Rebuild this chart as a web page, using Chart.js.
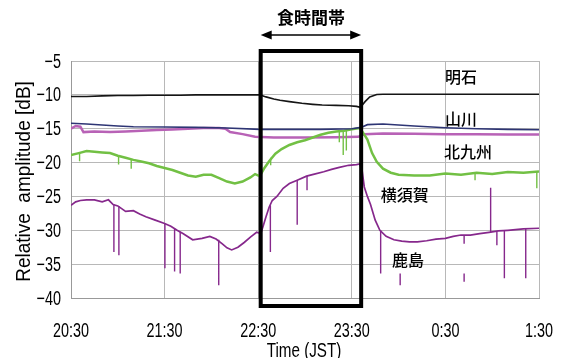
<!DOCTYPE html>
<html>
<head>
<meta charset="utf-8">
<script src="https://cdn.jsdelivr.net/npm/chart.js@4.4.1/dist/chart.umd.min.js"></script>
<style>
  html, body { margin: 0; padding: 0; background: #fff; }
</style>
</head>
<body>
<canvas id="chart" width="564" height="358"></canvas>
<script>
// ===== Data (minutes after 20:30 JST, relative amplitude in dB) =====
const xTickLabels = ['20:30', '21:30', '22:30', '23:30', '0:30', '1:30'];
const eclipseStart = 121.6;
const eclipseEnd = 186;

// 明石
const akashiT = [0, 10, 20, 30, 40, 50, 60, 70, 80, 90, 100, 110, 121, 125, 130, 134, 140, 148, 155, 161, 170, 178, 183, 185.5, 188.5, 191.5, 196, 200, 220, 240, 260, 280, 300];
const akashiV = [-10.25, -10.25, -10.15, -10.1, -10.1, -10.05, -10.05, -10.05, -10.0, -10.0, -10.0, -10.0, -10.0, -10.3, -10.6, -10.8, -11.0, -11.25, -11.4, -11.5, -11.55, -11.6, -11.7, -11.85, -11.0, -10.3, -9.95, -9.9, -9.9, -9.9, -9.9, -9.9, -9.9];

// 山川
const yamakawaT = [0, 10, 20, 30, 40, 60, 80, 100, 121, 140, 160, 180, 186, 190, 200, 210, 220, 240, 260, 280, 300];
const yamakawaV = [-14.2, -14.3, -14.45, -14.6, -14.7, -14.75, -14.8, -14.9, -15.1, -15.1, -15.1, -15.0, -14.8, -14.4, -14.3, -14.45, -14.6, -14.85, -15.0, -15.1, -15.15];

// 北九州
const kitakyushuT = [0, 3, 6, 8, 15, 25, 35, 45, 55, 65, 75, 85, 95, 99, 102, 110, 118, 130, 150, 170, 184, 188, 200, 220, 240, 260, 280, 300];
const kitakyushuV = [-15.0, -14.6, -14.7, -15.5, -15.4, -15.5, -15.4, -15.3, -15.2, -15.1, -15.0, -14.9, -14.9, -15.0, -15.5, -15.8, -16.2, -16.3, -16.3, -16.25, -16.2, -15.8, -15.7, -15.75, -15.8, -15.8, -15.85, -15.85];

// 横須賀
const yokosukaT = [0, 5, 10, 15, 20, 25, 30, 35, 40, 45, 50, 55, 60, 65, 70, 75, 80, 85, 90, 95, 100, 105, 110, 115, 118, 121, 124, 127, 131, 135, 140, 145, 150, 155, 160, 165, 170, 175, 180, 185, 187, 190, 193, 196, 200, 205, 210, 220, 230, 240, 250, 260, 270, 280, 290, 300];
const yokosukaV = [-18.9, -18.6, -18.3, -18.4, -18.5, -18.6, -19.0, -19.3, -19.6, -19.85, -20.1, -20.5, -20.8, -21.1, -21.5, -21.9, -22.1, -21.8, -21.8, -22.3, -22.8, -23.1, -22.8, -22.2, -21.7, -22.0, -20.8, -19.8, -18.7, -18.0, -17.4, -17.0, -16.7, -16.3, -15.9, -15.6, -15.4, -15.3, -15.1, -14.9, -15.5, -16.6, -18.6, -19.9, -20.9, -21.5, -21.8, -21.9, -21.9, -21.6, -21.8, -21.5, -21.7, -21.4, -21.5, -21.3];
const yokosukaSpikeT = [5.5, 30.5, 38.6, 128, 172, 174.5, 176.5, 259, 298.6];
const yokosukaSpikeFrom = [-18.6, -19.0, -19.5, -19.3, -15.4, -15.3, -15.25, -21.5, -21.3];
const yokosukaSpikeTo = [-19.8, -20.3, -20.9, -20.4, -17.0, -18.9, -18.2, -22.6, -23.8];

// 鹿島
const kashimaT = [0, 3, 6, 10, 15, 20, 24, 27, 30, 35, 40, 44, 48, 54, 60, 64, 68, 72, 78, 84, 89, 93, 97, 100, 103, 107, 111, 115, 119, 121.6, 123, 125, 127, 129, 132, 136, 140, 145, 151, 156, 162, 167, 172, 178, 183, 185, 186.5, 188, 190, 192, 195, 198, 202, 207, 212, 217, 222, 228, 234, 240, 245, 250, 256, 262, 268, 274, 280, 290, 300];
const kashimaV = [-26.3, -25.8, -25.6, -25.5, -25.5, -25.8, -25.5, -26.2, -26.4, -27.2, -27.1, -27.6, -28.0, -28.5, -29.0, -29.4, -30.0, -30.5, -31.4, -31.2, -30.9, -31.3, -32.0, -32.6, -32.9, -32.5, -31.8, -31.0, -30.3, -30.5, -29.5, -28.0, -26.6, -25.6, -25.0, -23.8, -23.1, -22.6, -22.0, -21.7, -21.35, -21.0, -20.7, -20.4, -20.3, -20.2, -21.0, -23.6, -25.0, -26.2, -28.5, -30.0, -30.9, -31.4, -31.6, -31.7, -31.7, -31.55, -31.3, -31.2, -30.9, -30.7, -30.7, -30.5, -30.3, -30.1, -30.0, -29.8, -29.7];
const kashimaSpikeT = [27.5, 30.7, 60.2, 66.4, 70, 94.7, 127.8, 145, 151.3, 198.5, 211, 252, 252, 269, 273, 277.8, 291.5];
const kashimaSpikeFrom = [-26.2, -26.4, -29.0, -29.7, -30.2, -31.4, -26.3, -22.6, -22.0, -30.0, -36.4, -30.7, -36.4, -30.3, -30.2, -30.0, -29.8];
const kashimaSpikeTo = [-33.2, -33.7, -35.6, -36.1, -36.4, -38.1, -33.2, -29.2, -24.1, -36.4, -38.1, -32.0, -37.6, -23.7, -32.2, -37.1, -37.1];

// ===== Helpers =====
const toPoints = (t, v) => t.map((x, i) => ({ x: x, y: v[i] }));
function spikePoints(t, from, to) {
    const pts = [];
    t.forEach((x, i) => {
        pts.push({ x: x, y: from[i] }, { x: x, y: to[i] }, { x: x, y: null });
    });
    return pts;
}

const colors = {
    akashi: '#151515',
    yamakawa: '#2e3574',
    kitakyushu: '#b862b6',
    yokosuka: '#72c044',
    kashima: '#86288c'
};

const stationLabels = [
    { text: '明石', x: 250, y: -7.36 },
    { text: '山川', x: 250, y: -13.57 },
    { text: '北九州', x: 254.5, y: -18.37 },
    { text: '横須賀', x: 214, y: -24.8 },
    { text: '鹿島', x: 216, y: -34.4 }
];

const sansFont = "'Liberation Sans', Arial, sans-serif";
const cjkFont = "'Noto Sans CJK JP', 'Noto Sans CJK SC', sans-serif";

// condensed text: the original labels are set in a narrow face
function narrowText(ctx, text, x, y, squeeze) {
    ctx.save();
    ctx.translate(x, y);
    ctx.scale(squeeze, 1);
    ctx.fillText(text, 0, 0);
    ctx.restore();
}

// ===== Overlay: tick labels, eclipse box, arrow, labels, axis titles =====
const overlay = {
    id: 'overlay',
    afterDatasetsDraw(chart) {
        const { ctx, chartArea: a, scales } = chart;
        const x1 = scales.x.getPixelForValue(eclipseStart);
        const x2 = scales.x.getPixelForValue(eclipseEnd);
        ctx.save();
        ctx.fillStyle = '#000';

        // tick labels
        ctx.font = '20px ' + sansFont;
        ctx.textBaseline = 'middle';
        ctx.textAlign = 'right';
        scales.y.ticks.forEach(t => {
            narrowText(ctx, '\u2212' + Math.abs(t.value), a.left - 10, scales.y.getPixelForValue(t.value) + 1, 0.72);
        });
        ctx.textAlign = 'center';
        scales.x.ticks.forEach(t => {
            narrowText(ctx, xTickLabels[Math.round(t.value / 60)], scales.x.getPixelForValue(t.value), a.bottom + 33, 0.72);
        });

        // eclipse period box
        ctx.strokeStyle = '#000';
        ctx.lineWidth = 4;
        ctx.strokeRect(x1, a.top - 10, x2 - x1, a.bottom - a.top + 18);

        // double arrow
        const ay = a.top - 26;
        ctx.lineWidth = 1.5;
        ctx.beginPath();
        ctx.moveTo(x1 + 6, ay);
        ctx.lineTo(x2 - 6, ay);
        ctx.stroke();
        [[x1, 1], [x2, -1]].forEach(([px, d]) => {
            ctx.beginPath();
            ctx.moveTo(px, ay);
            ctx.lineTo(px + d * 11, ay - 4.5);
            ctx.lineTo(px + d * 11, ay + 4.5);
            ctx.closePath();
            ctx.fill();
        });
        ctx.font = 'bold 17px ' + cjkFont;
        ctx.fillText('食時間帯', (x1 + x2) / 2, a.top - 43);

        // station names
        ctx.font = '500 16px ' + cjkFont;
        stationLabels.forEach(l => {
            ctx.fillText(l.text, scales.x.getPixelForValue(l.x), scales.y.getPixelForValue(l.y));
        });

        // axis titles
        ctx.font = '20px ' + sansFont;
        ctx.save();
        ctx.translate(24, (a.top + a.bottom) / 2 + 2);
        ctx.rotate(-Math.PI / 2);
        ctx.scale(0.95, 1);
        ctx.fillText('Relative  amplitude [dB]', 0, 0);
        ctx.restore();
        ctx.textBaseline = 'alphabetic';
        narrowText(ctx, 'Time (JST)', 304, 357, 0.76);

        ctx.restore();
    }
};

// ===== Chart =====
const line = (data, color, width) => ({
    data: data,
    borderColor: color,
    borderWidth: width,
    pointRadius: 0,
    tension: 0,
    fill: false
});

new Chart(document.getElementById('chart'), {
    type: 'line',
    data: {
        datasets: [
            line(toPoints(akashiT, akashiV), colors.akashi, 1.6),
            line(toPoints(yamakawaT, yamakawaV), colors.yamakawa, 1.6),
            line(toPoints(yokosukaT, yokosukaV), colors.yokosuka, 2.5),
            line(spikePoints(yokosukaSpikeT, yokosukaSpikeFrom, yokosukaSpikeTo), colors.yokosuka, 1.4),
            line(toPoints(kitakyushuT, kitakyushuV), colors.kitakyushu, 2.5),
            line(toPoints(kashimaT, kashimaV), colors.kashima, 1.7),
            line(spikePoints(kashimaSpikeT, kashimaSpikeFrom, kashimaSpikeTo), colors.kashima, 1.4)
        ]
    },
    options: {
        responsive: false,
        animation: false,
        devicePixelRatio: 1,
        layout: { padding: { top: 61, right: 25, bottom: 0, left: 0 } },
        plugins: { legend: { display: false }, tooltip: { enabled: false } },
        scales: {
            x: {
                type: 'linear',
                min: 0,
                max: 300,
                offset: false,
                afterFit: s => { s.height = 60; },
                grid: { color: '#b8b8b8', drawTicks: false },
                border: { color: '#999' },
                ticks: { stepSize: 60, display: false }
            },
            y: {
                min: -40,
                max: -5,
                afterFit: s => { s.width = 71; },
                grid: { color: '#b8b8b8', drawTicks: false },
                border: { color: '#999' },
                ticks: { stepSize: 5, display: false }
            }
        }
    },
    plugins: [overlay]
});
</script>
</body>
</html>
